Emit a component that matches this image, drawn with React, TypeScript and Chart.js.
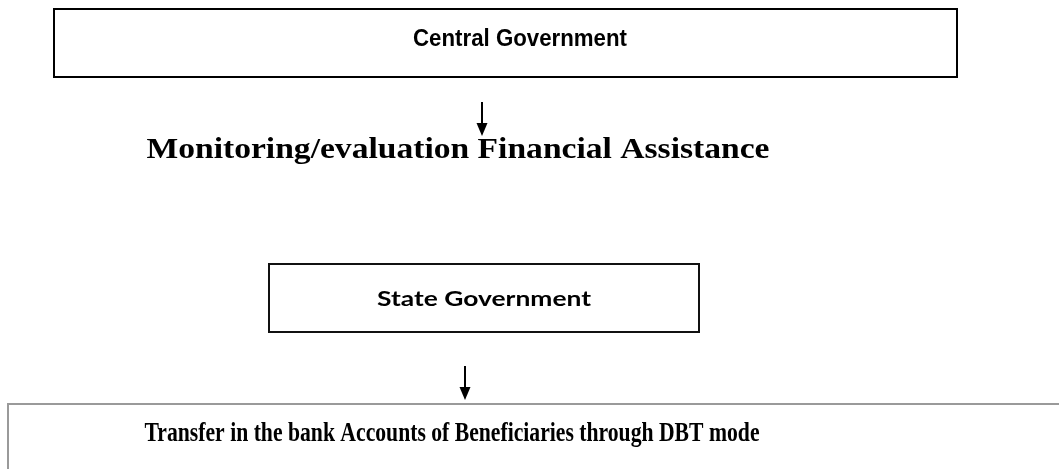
import React, { useEffect, useRef } from "react";
import { Chart, registerables } from "chart.js";
Chart.register(...registerables);

const CANVAS_W = 1059;
const CANVAS_H = 469;

// Node labels (the flowchart's content)
const nodeLabels = [
  "Central Government",
  "Monitoring/evaluation Financial Assistance",
  "State Government",
  "Transfer in the bank Accounts of Beneficiaries through DBT mode",
];
// Text anchors (centre x, baseline y) in page units
const textCenterX = [520, 458, 484, 452];
const textBaseY = [46, 158, 306, 441];
const textWidth = [214, 623, 214, 615];

// Boxes drawn around nodes (null = no box)
const boxLeft = [54, null, 269, 8];
const boxRight = [957, null, 699, 1075];
const boxTop = [9, null, 264, 404];
const boxBottom = [77, null, 332, 490];

// Arrows
const arrowX = [482, 465];
const arrowTop = [102, 366];
const arrowTip = [136, 400];

const textFonts = [
  { family: '"Liberation Sans", Arial, sans-serif', size: 23, weight: "bold" },
  { family: '"Liberation Serif", serif', size: 30, weight: "bold" },
  { family: 'Lato, "Open Sans", sans-serif', size: 21, weight: "bold" },
  { family: '"Liberation Serif", serif', size: 27, weight: "bold" },
];
const boxColors = ["#000000", null, "#111111", "#9a9a9a"];

const flowPlugin = {
  id: "flow",
  afterDatasetsDraw(chart: any) {
    const ctx = chart.ctx;
    const xs = chart.scales.x;
    const ys = chart.scales.y;
    ctx.save();
    // boxes
    for (let i = 0; i < nodeLabels.length; i++) {
      if (boxLeft[i] == null) continue;
      const l = xs.getPixelForValue(boxLeft[i]);
      const r = xs.getPixelForValue(boxRight[i]);
      const t = ys.getPixelForValue(boxTop[i]);
      const b = ys.getPixelForValue(boxBottom[i]);
      ctx.strokeStyle = boxColors[i];
      ctx.lineWidth = 2;
      ctx.strokeRect(l, t, r - l, b - t);
    }
    // arrows
    for (let i = 0; i < arrowX.length; i++) {
      const x = xs.getPixelForValue(arrowX[i]);
      const t = ys.getPixelForValue(arrowTop[i]);
      const tip = ys.getPixelForValue(arrowTip[i]);
      ctx.strokeStyle = "#000";
      ctx.fillStyle = "#000";
      ctx.lineWidth = 2;
      ctx.beginPath();
      ctx.moveTo(x, t);
      ctx.lineTo(x, tip - 8);
      ctx.stroke();
      ctx.beginPath();
      ctx.moveTo(x - 5.5, tip - 13);
      ctx.lineTo(x + 5.5, tip - 13);
      ctx.lineTo(x, tip);
      ctx.closePath();
      ctx.fill();
    }
    // texts
    const meta = chart.getDatasetMeta(0);
    for (let i = 0; i < nodeLabels.length; i++) {
      const pt = meta.data[i];
      const f = textFonts[i];
      ctx.font = `${f.weight} ${f.size}px ${f.family}`;
      ctx.fillStyle = "#000";
      ctx.textBaseline = "alphabetic";
      ctx.textAlign = "center";
      const m = ctx.measureText(nodeLabels[i]).width;
      const target =
        xs.getPixelForValue(textWidth[i]) - xs.getPixelForValue(0);
      const sx = target / m;
      ctx.save();
      ctx.translate(pt.x, pt.y);
      ctx.scale(sx, 1);
      ctx.fillText(nodeLabels[i], 0, 0);
      ctx.restore();
    }
    ctx.restore();
  },
};

export default function App() {
  const ref = useRef<HTMLCanvasElement | null>(null);
  useEffect(() => {
    document.body.style.margin = "0";
    document.body.style.background = "#fff";
    const canvas = ref.current!;
    const chart = new Chart(canvas, {
      type: "scatter",
      data: {
        labels: nodeLabels,
        datasets: [
          {
            data: nodeLabels.map((_, i) => ({ x: textCenterX[i], y: textBaseY[i] })),
            pointRadius: 0,
            pointHoverRadius: 0,
          },
        ],
      },
      options: {
        responsive: false,
        animation: false,
        events: [],
        layout: { padding: 0 },
        plugins: { legend: { display: false }, tooltip: { enabled: false } },
        scales: {
          x: { type: "linear", min: 0, max: CANVAS_W, display: false },
          y: { type: "linear", min: 0, max: CANVAS_H, reverse: true, display: false },
        },
      },
      plugins: [flowPlugin],
    });
    return () => chart.destroy();
  }, []);
  return (
    <div style={{ width: CANVAS_W, height: CANVAS_H, background: "#fff" }}>
      <canvas ref={ref} width={CANVAS_W} height={CANVAS_H} style={{ display: "block" }} />
    </div>
  );
}
